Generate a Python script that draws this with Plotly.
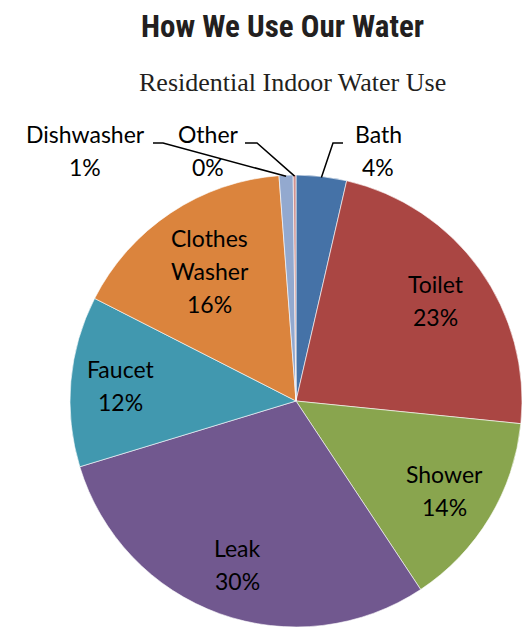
import math
import plotly.graph_objects as go

# Residential indoor water use, share of total (%)
categories = ["Bath", "Toilet", "Shower", "Leak", "Faucet", "Clothes Washer", "Dishwasher", "Other"]
shares = [3.6, 23.0, 14.1, 29.6, 12.2, 16.3, 1.0, 0.2]
colors = ["#4572A7", "#AA4643", "#89A54E", "#71588F", "#4198AF", "#DB843D", "#93A9CF", "#D19392"]

W, H = 530, 630
CX, CY, R = 296, 401, 226          # pie centre and radius in pixels
LINE_GAP = 33                      # spacing between label lines

LABEL_FONT = dict(family="Lato, 'Open Sans', sans-serif", size=23, color="#000000")

fig = go.Figure()
fig.add_trace(go.Pie(
    labels=categories,
    values=shares,
    sort=False,
    direction="clockwise",
    rotation=0,
    marker=dict(colors=colors, line=dict(color="#FFFFFF", width=0.6)),
    textinfo="none",
    hoverinfo="label+percent",
    domain=dict(x=[(CX - R) / W, (CX + R) / W], y=[1 - (CY + R) / H, 1 - (CY - R) / H]),
    showlegend=False,
))

total = sum(shares)
cum = 0.0
mid_angles = []
for v in shares:
    mid_angles.append((cum + v / 2) / total * 2 * math.pi)
    cum += v


def polar(angle, frac):
    return CX + frac * R * math.sin(angle), CY - frac * R * math.cos(angle)


def pct(v):
    return f"{round(v / total * 100)}%"


annotations = []


def stacked_label(lines, x, y_center):
    # one annotation per line so the line spacing can be set exactly
    top = y_center - (len(lines) - 1) * LINE_GAP / 2
    for k, line in enumerate(lines):
        annotations.append(dict(x=x, y=top + k * LINE_GAP, xref="x", yref="y", text=line,
                                showarrow=False, font=LABEL_FONT,
                                xanchor="center", yanchor="middle"))


# labels drawn inside their slices: radial fraction of the radius
inside = {"Toilet": 0.76, "Shower": 0.77, "Leak": 0.77, "Faucet": 0.78, "Clothes Washer": 0.69}
for name, frac in inside.items():
    i = categories.index(name)
    x, y = polar(mid_angles[i], frac)
    stacked_label(name.split(" ") + [pct(shares[i])], x, y)

# small slices: label above the pie with a bent leader line
outside = {
    "Bath": dict(text_x=378, elbow=(333, 343)),
    "Other": dict(text_x=208, elbow=(257, 245)),
    "Dishwasher": dict(text_x=85, elbow=(163, 153)),
}
shapes = []
for name, spec in outside.items():
    i = categories.index(name)
    stacked_label([name, pct(shares[i])], spec["text_x"], 150)
    ex, ey = polar(mid_angles[i], 0.995)
    x_elbow, x_end = spec["elbow"]
    shapes.append(dict(type="path", xref="x", yref="y",
                       path=f"M {x_end} 143 L {x_elbow} 143 L {ex:.1f} {ey:.1f}",
                       line=dict(color="#000000", width=1.5)))

annotations.append(dict(x=282, y=26, xref="x", yref="y", text="<b>How We Use Our Water</b>",
                        showarrow=False, xanchor="center", yanchor="middle",
                        font=dict(family="'Roboto Condensed', 'DejaVu Sans', sans-serif",
                                  size=31, color="#231F20")))
annotations.append(dict(x=292, y=82, xref="x", yref="y", text="Residential Indoor Water Use",
                        showarrow=False, xanchor="center", yanchor="middle",
                        font=dict(family="'Liberation Serif', serif", size=26, color="#231F20")))

fig.update_layout(
    width=W, height=H,
    margin=dict(l=0, r=0, t=0, b=0),
    paper_bgcolor="#FFFFFF", plot_bgcolor="rgba(0,0,0,0)",
    xaxis=dict(range=[0, W], visible=False, fixedrange=True),
    yaxis=dict(range=[H, 0], visible=False, fixedrange=True),
    annotations=annotations,
    shapes=shapes,
)

fig.write_html("out.html")
